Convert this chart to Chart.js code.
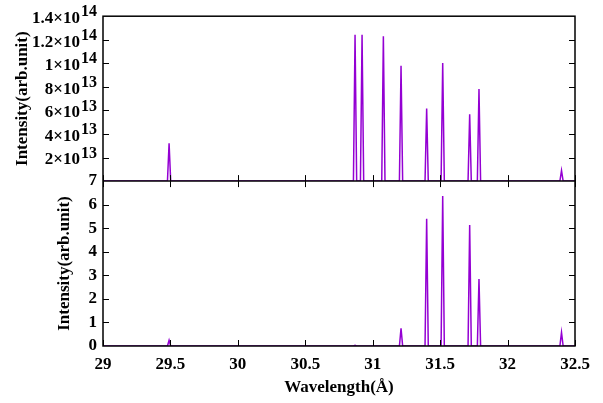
<!DOCTYPE html>
<html><head><meta charset="utf-8">
<script src="https://cdn.jsdelivr.net/npm/chart.js@4/dist/chart.umd.min.js"></script>
<style>html,body{margin:0;padding:0;background:#fff;}#wrap{width:603px;height:403px;}</style>
</head><body><div id="wrap"><canvas id="c" width="603" height="403"></canvas></div>
<script>
// ---- data ----
const wavelengths     = [29.49, 30.869, 30.921, 31.079, 31.21, 31.40, 31.519, 31.719, 31.788, 32.40];
const topIntensity    = [3.22e13, 12.43e13, 12.43e13, 12.3e13, 9.8e13, 6.16e13, 10.03e13, 5.68e13, 7.82e13, 0.9e13];
const bottomIntensity = [0.24, 0.03, 0, 0, 0.75, 5.40, 6.37, 5.14, 2.84, 0.58];
const xTicks      = [29, 29.5, 30, 30.5, 31, 31.5, 32, 32.5];
const topTicks    = [0, 2e13, 4e13, 6e13, 8e13, 1e14, 1.2e14, 1.4e14];
const bottomTicks = [0, 1, 2, 3, 4, 5, 6, 7];
const xTitle = 'Wavelength(Å)';
const yTitle = 'Intensity(arb.unit)';

// ---- build line profiles (narrow peaks) ----
const HALF = 0.012;
function profile(vals) {
  const pts = [{x: 29, y: 0}];
  wavelengths.forEach((w, i) => {
    pts.push({x: w - HALF, y: 0}, {x: w, y: vals[i]}, {x: w + HALF, y: 0});
  });
  pts.push({x: 32.5, y: 0});
  return pts;
}

const FONT = "'Liberation Serif','Times New Roman',serif";
const COLOR = '#9400d3';

const frame = {
  id: 'frame',
  afterDraw(chart) {
    const c = chart.ctx, a = chart.chartArea;
    const x = chart.scales.x, yt = chart.scales.yTop, yb = chart.scales.yBot;
    const TL = 6;
    c.save();
    c.strokeStyle = '#000';
    c.lineWidth = 1.5;
    c.strokeRect(a.left, a.top, a.right - a.left, a.bottom - a.top);
    c.beginPath();
    c.moveTo(a.left, yt.bottom); c.lineTo(a.right, yt.bottom);
    c.stroke();
    c.lineWidth = 1;
    c.beginPath();
    xTicks.forEach(v => {
      const px = Math.round(x.getPixelForValue(v)) + 0.5;
      c.moveTo(px, yb.bottom); c.lineTo(px, yb.bottom - TL);
      c.moveTo(px, yb.top); c.lineTo(px, yb.top + TL);
      c.moveTo(px, yt.bottom); c.lineTo(px, yt.bottom - TL);
    });
    topTicks.forEach(v => {
      if (v === 0 || v === topTicks[topTicks.length - 1]) return;
      const py = Math.round(yt.getPixelForValue(v)) + 0.5;
      c.moveTo(a.left, py); c.lineTo(a.left + TL, py);
      c.moveTo(a.right, py); c.lineTo(a.right - TL, py);
    });
    bottomTicks.forEach(v => {
      if (v === 0 || v === bottomTicks[bottomTicks.length - 1]) return;
      const py = Math.round(yb.getPixelForValue(v)) + 0.5;
      c.moveTo(a.left, py); c.lineTo(a.left + TL, py);
      c.moveTo(a.right, py); c.lineTo(a.right - TL, py);
    });
    c.stroke();
    // top-axis labels with superscript exponents
    c.fillStyle = '#000';
    c.textAlign = 'right';
    c.textBaseline = 'middle';
    const rightX = a.left - 6;
    topTicks.forEach(v => {
      if (v === 0) return;
      const e = Math.floor(Math.log10(v) + 1e-9);
      const m = Math.round(v / Math.pow(10, e) * 10) / 10;
      const py = yt.getPixelForValue(v);
      c.font = 'bold 16px ' + FONT;
      const sup = String(e);
      const sw = c.measureText(sup).width;
      c.fillText(sup, rightX, py - 4);
      c.font = 'bold 17px ' + FONT;
      c.fillText(m + '×10', rightX - sw - 1, py + 2.5);
    });
    c.restore();
  }
};

new Chart(document.getElementById('c'), {
  type: 'line',
  data: {
    datasets: [
      {data: profile(topIntensity), yAxisID: 'yTop', borderColor: COLOR, borderWidth: 1.5, pointRadius: 0, tension: 0, fill: false},
      {data: profile(bottomIntensity), yAxisID: 'yBot', borderColor: COLOR, borderWidth: 1.5, pointRadius: 0, tension: 0, fill: false}
    ]
  },
  options: {
    responsive: false, animation: false, devicePixelRatio: 1,
    parsing: false,
    layout: {padding: {left: 0, right: 28, top: 16, bottom: 0}},
    plugins: {legend: {display: false}, tooltip: {enabled: false}},
    scales: {
      x: {
        type: 'linear', min: 29, max: 32.5,
        afterBuildTicks: s => { s.ticks = xTicks.map(v => ({value: v})); },
        grid: {display: false, drawTicks: false}, border: {display: false},
        ticks: {padding: 8, color: '#000', maxRotation: 0, autoSkip: false,
          font: {family: FONT, size: 17, weight: 'bold'}, callback: v => String(v)},
        title: {display: true, text: xTitle, color: '#000', padding: {top: 0, bottom: 5},
          font: {family: FONT, size: 17, weight: 'bold'}},
        afterFit: s => { s.height = 57; }
      },
      yTop: {
        type: 'linear', position: 'left', stack: 'v', stackWeight: 1, weight: 2,
        min: 0, max: 1.4e14,
        afterBuildTicks: s => { s.ticks = topTicks.map(v => ({value: v})); },
        grid: {display: false, drawTicks: false}, border: {display: false},
        ticks: {display: false},
        title: {display: true, text: yTitle, color: '#000', padding: {top: 12, bottom: 0},
          font: {family: FONT, size: 17, weight: 'bold'}},
        afterFit: s => { s.width = 103; }
      },
      yBot: {
        type: 'linear', position: 'left', stack: 'v', stackWeight: 1, weight: 1,
        min: 0, max: 7,
        afterBuildTicks: s => { s.ticks = bottomTicks.map(v => ({value: v})); },
        grid: {display: false, drawTicks: false}, border: {display: false},
        ticks: {padding: 6, color: '#000', autoSkip: false, font: {family: FONT, size: 17, weight: 'bold'}},
        title: {display: true, text: yTitle, color: '#000', padding: {top: 54, bottom: 0},
          font: {family: FONT, size: 17, weight: 'bold'}},
        afterFit: s => { s.width = 103; }
      }
    }
  },
  plugins: [frame]
});
</script></body></html>
